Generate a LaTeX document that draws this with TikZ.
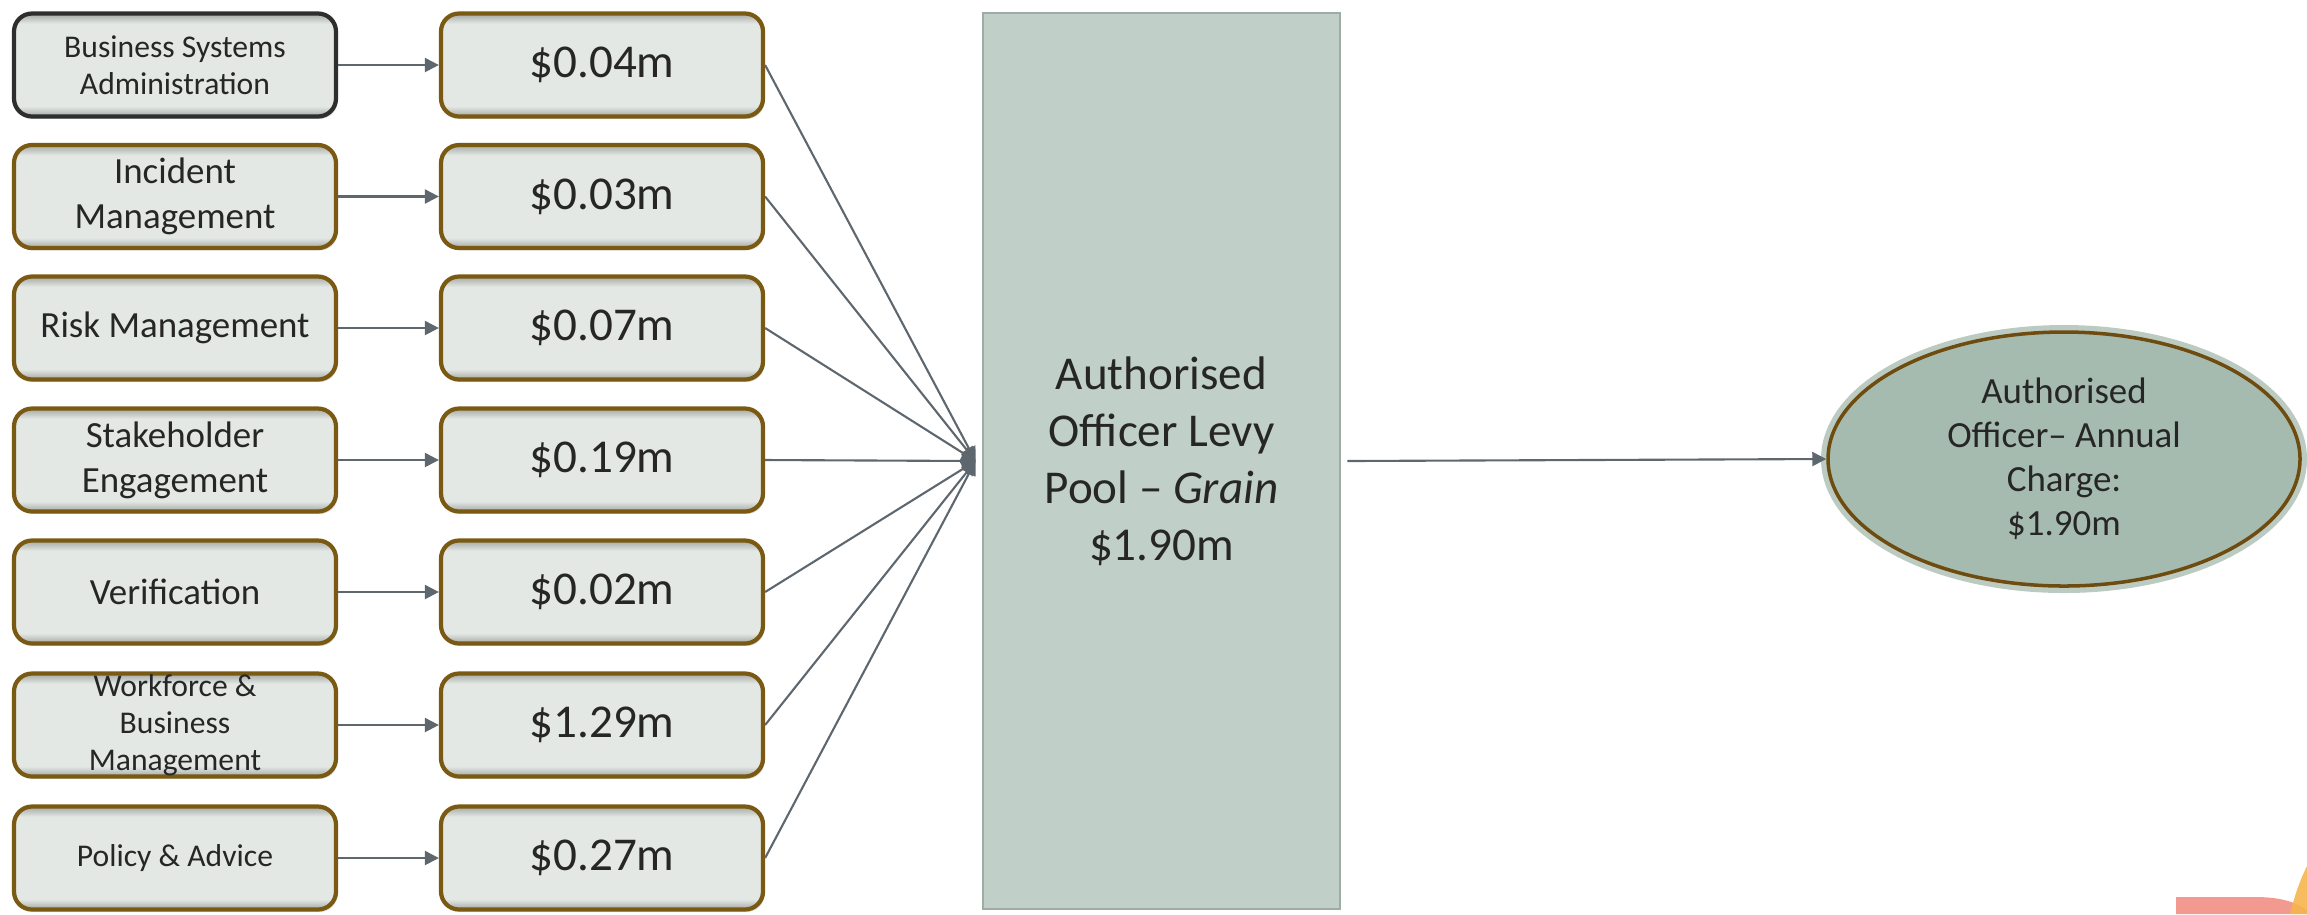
\documentclass[tikz,border=0pt]{standalone}
\usepackage{fontspec}
\setmainfont{Carlito}
\usetikzlibrary{positioning,arrows.meta,shapes.geometric,shadows}

\definecolor{boxfill}{HTML}{E3E8E5}
\definecolor{bevedge}{HTML}{A3A8A5}
\definecolor{boxrim}{HTML}{7A5A12}
\definecolor{darkrim}{HTML}{2E2E2E}
\definecolor{poolfill}{HTML}{C0CFC7}
\definecolor{poolrim}{HTML}{9DADA5}
\definecolor{chargefill}{HTML}{A5BBAF}
\definecolor{chargeglow}{HTML}{BCCBC2}
\definecolor{chargerim}{HTML}{6E4C10}
\definecolor{linkgray}{HTML}{5F676E}
\definecolor{textdark}{HTML}{262626}
\definecolor{logosalmon}{HTML}{F29A8F}
\definecolor{logoorange}{HTML}{F6B54C}

\pgfdeclareverticalshading{bevel}{100bp}{color(0bp)=(bevedge); color(25bp)=(bevedge); color(30bp)=(boxfill); color(70bp)=(boxfill); color(75bp)=(bevedge); color(100bp)=(bevedge)}

\tikzset{
  flowarrow/.style={-{Triangle[length=1.4mm, width=1.4mm]}, draw=linkgray, line width=0.6pt},
  funcbox/.style={draw=boxrim, line width=1.2pt, rounded corners=0.18cm, shading=bevel, minimum width=3.22cm, minimum height=1.03cm, align=center, inner sep=1pt, text=textdark, font=\fontsize{10.5}{12.8}\selectfont, drop shadow={opacity=0.25, shadow xshift=0.5pt, shadow yshift=-0.7pt}},
  costbox/.style={funcbox, font=\fontsize{13.4}{16}\selectfont},
  smalltext/.style={font=\fontsize{9}{10.6}\selectfont},
  poolbox/.style={draw=poolrim, line width=0.8pt, fill=poolfill, minimum width=3.57cm, minimum height=8.96cm, align=center, text=textdark, font=\fontsize{13.4}{16.2}\selectfont, drop shadow={opacity=0.18, shadow xshift=0pt, shadow yshift=0pt, shadow scale=1.012}, preaction={draw=white, line width=0.13cm}},
  chargenode/.style={ellipse, draw=chargerim, line width=1pt, fill=chargefill, minimum width=4.72cm, minimum height=2.54cm, align=center, inner sep=0pt, text=textdark, font=\fontsize{10.5}{12.5}\selectfont, preaction={draw=chargeglow, line width=0.14cm}}
}

\begin{document}
\begin{tikzpicture}
  \useasboundingbox (0,0) rectangle (23.07,-9.14);

  % functions
  \node[funcbox, smalltext, draw=darkrim] (bsa) at (1.75,-0.65) {Business Systems\\ Administration};
  \node[funcbox] (inc) at (1.75,-1.965) {Incident\\ Management};
  \node[funcbox] (risk) at (1.75,-3.28) {Risk Management};
  \node[funcbox] (stk) at (1.75,-4.60) {Stakeholder\\ Engagement};
  \node[funcbox] (ver) at (1.75,-5.92) {Verification};
  \node[funcbox, smalltext, inner ysep=0pt] (wbm) at (1.75,-7.25) {Workforce \&\\ Business\\ Management};
  \node[funcbox, smalltext] (pol) at (1.75,-8.58) {Policy \& Advice};

  % amounts
  \node[costbox] (bsam) at (6.02,-0.65) {\$0.04m};
  \node[costbox] (incm) at (6.02,-1.965) {\$0.03m};
  \node[costbox] (riskm) at (6.02,-3.28) {\$0.07m};
  \node[costbox] (stkm) at (6.02,-4.60) {\$0.19m};
  \node[costbox] (verm) at (6.02,-5.92) {\$0.02m};
  \node[costbox] (wbmm) at (6.02,-7.25) {\$1.29m};
  \node[costbox] (polm) at (6.02,-8.58) {\$0.27m};

  \node[poolbox] (pool) at (11.615,-4.61) {Authorised\\ Officer Levy\\ Pool -- \textit{Grain}\\ \$1.90m};
  \node[chargenode] (charge) at (20.64,-4.59) {Authorised\\ Officer-- Annual\\ Charge:\\ \$1.90m};

  \draw[flowarrow] (bsa) -- (bsam);
  \draw[flowarrow] (inc) -- (incm);
  \draw[flowarrow] (risk) -- (riskm);
  \draw[flowarrow] (stk) -- (stkm);
  \draw[flowarrow] (ver) -- (verm);
  \draw[flowarrow] (wbm) -- (wbmm);
  \draw[flowarrow] (pol) -- (polm);

  \draw[flowarrow] (bsam.east) -- ([xshift=-0.06cm]pool.west);
  \draw[flowarrow] (incm.east) -- ([xshift=-0.06cm]pool.west);
  \draw[flowarrow] (riskm.east) -- ([xshift=-0.06cm]pool.west);
  \draw[flowarrow] (stkm.east) -- ([xshift=-0.06cm]pool.west);
  \draw[flowarrow] (verm.east) -- ([xshift=-0.06cm]pool.west);
  \draw[flowarrow] (wbmm.east) -- ([xshift=-0.06cm]pool.west);
  \draw[flowarrow] (polm.east) -- ([xshift=-0.06cm]pool.west);

  \draw[flowarrow] ([xshift=0.06cm]pool.east) -- (charge.west);

  % logo corner
  \fill[logosalmon] (21.76,-9.14) -- (21.76,-8.97) -- (22.55,-8.97) .. controls (22.85,-8.97) and (22.98,-9.04) .. (23.07,-9.10) -- (23.07,-9.14) -- cycle;
  \fill[logoorange, opacity=0.9] (22.90,-9.14) .. controls (22.94,-8.98) and (22.99,-8.82) .. (23.07,-8.66) -- (23.07,-9.14) -- cycle;
\end{tikzpicture}
\end{document}
